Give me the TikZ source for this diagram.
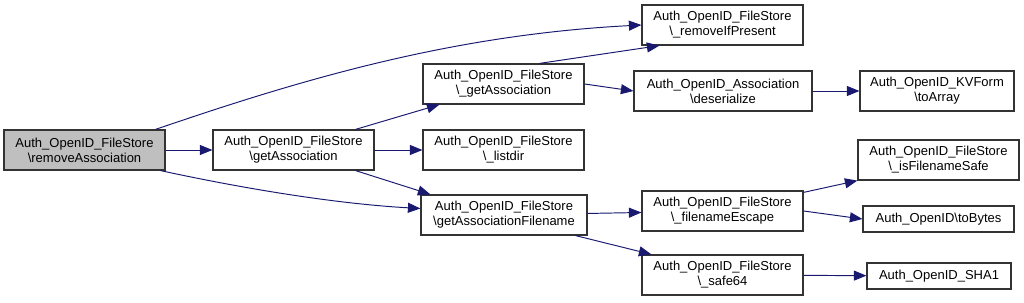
\documentclass[tikz,border=0pt]{standalone}
\usepackage{fontspec}
\setmainfont{Liberation Sans}
\usetikzlibrary{arrows.meta,positioning}
\definecolor{edgeblue}{HTML}{191970}

\begin{document}
\begin{tikzpicture}[x=0.02cm,y=-0.02cm,
    fn/.style={draw=black!80,line width=0.7pt,align=center,inner sep=0pt,
      minimum width=3.22cm,minimum height=0.8cm,
      font=\fontsize{7.4}{8.6}\selectfont},
    short/.style={minimum height=0.52cm},
    call/.style={draw=edgeblue,line width=0.55pt,
      -{Triangle[length=0.25cm,width=0.2cm]}}]
  \useasboundingbox (0,0) rectangle (1024,303);
  % functions
  \node[fn,fill=black!25] (remA) at (84.5,150) {Auth\_OpenID\_FileStore\\\textbackslash removeAssociation};
  \node[fn] (getA) at (293.5,150) {Auth\_OpenID\_FileStore\\\textbackslash getAssociation};
  \node[fn] (getAp) at (503.5,84) {Auth\_OpenID\_FileStore\\\textbackslash\_getAssociation};
  \node[fn] (listdir) at (503.5,150) {Auth\_OpenID\_FileStore\\\textbackslash\_listdir};
  \node[fn,minimum width=3.32cm] (getAF) at (504,215) {Auth\_OpenID\_FileStore\\\textbackslash getAssociationFilename};
  \node[fn] (remIfP) at (722.5,25) {Auth\_OpenID\_FileStore\\\textbackslash\_removeIfPresent};
  \node[fn,minimum width=3.56cm] (deser) at (723,91) {Auth\_OpenID\_Association\\\textbackslash deserialize};
  \node[fn,minimum width=3.08cm] (toArray) at (937,91) {Auth\_OpenID\_KVForm\\\textbackslash toArray};
  \node[fn] (fnEsc) at (722.5,211) {Auth\_OpenID\_FileStore\\\textbackslash\_filenameEscape};
  \node[fn] (safe64) at (722.5,275) {Auth\_OpenID\_FileStore\\\textbackslash\_safe64};
  \node[fn] (isSafe) at (938.5,160) {Auth\_OpenID\_FileStore\\\textbackslash\_isFilenameSafe};
  \node[fn,short,minimum width=3.02cm] (toBytes) at (938.5,219) {Auth\_OpenID\textbackslash toBytes};
  \node[fn,short,minimum width=2.88cm] (sha1) at (939,276) {Auth\_OpenID\_SHA1};
  % calls
  \draw[call] ([xshift=-0.2cm]remA.north east) .. controls (300,80) and (450,35) .. (remIfP.west);
  \draw[call] (remA) -- (getA);
  \draw[call] ([xshift=-0.1cm]remA.south east) .. controls (250,190) and (340,204) .. ([yshift=0.13cm]getAF.west);
  \draw[call] ([xshift=-0.38cm]getA.north east) -- ([xshift=0.34cm]getAp.south west);
  \draw[call] (getA) -- (listdir);
  \draw[call] ([xshift=-0.38cm]getA.south east) -- ([xshift=0.2cm]getAF.north west);
  \draw[call] ([xshift=-0.9cm]getAp.north east) -- ([xshift=0.36cm]remIfP.south west);
  \draw[call] (getAp.east) -- (deser.west);
  \draw[call] (deser) -- (toArray);
  \draw[call] (getAF) -- (fnEsc);
  \draw[call] ([xshift=-0.24cm]getAF.south east) -- ([xshift=0.2cm]safe64.north west);
  \draw[call] ([yshift=-0.04cm]fnEsc.north east) -- (isSafe.south west);
  \draw[call] (fnEsc.east) -- (toBytes.west);
  \draw[call] (safe64) -- (sha1);
\end{tikzpicture}
\end{document}
